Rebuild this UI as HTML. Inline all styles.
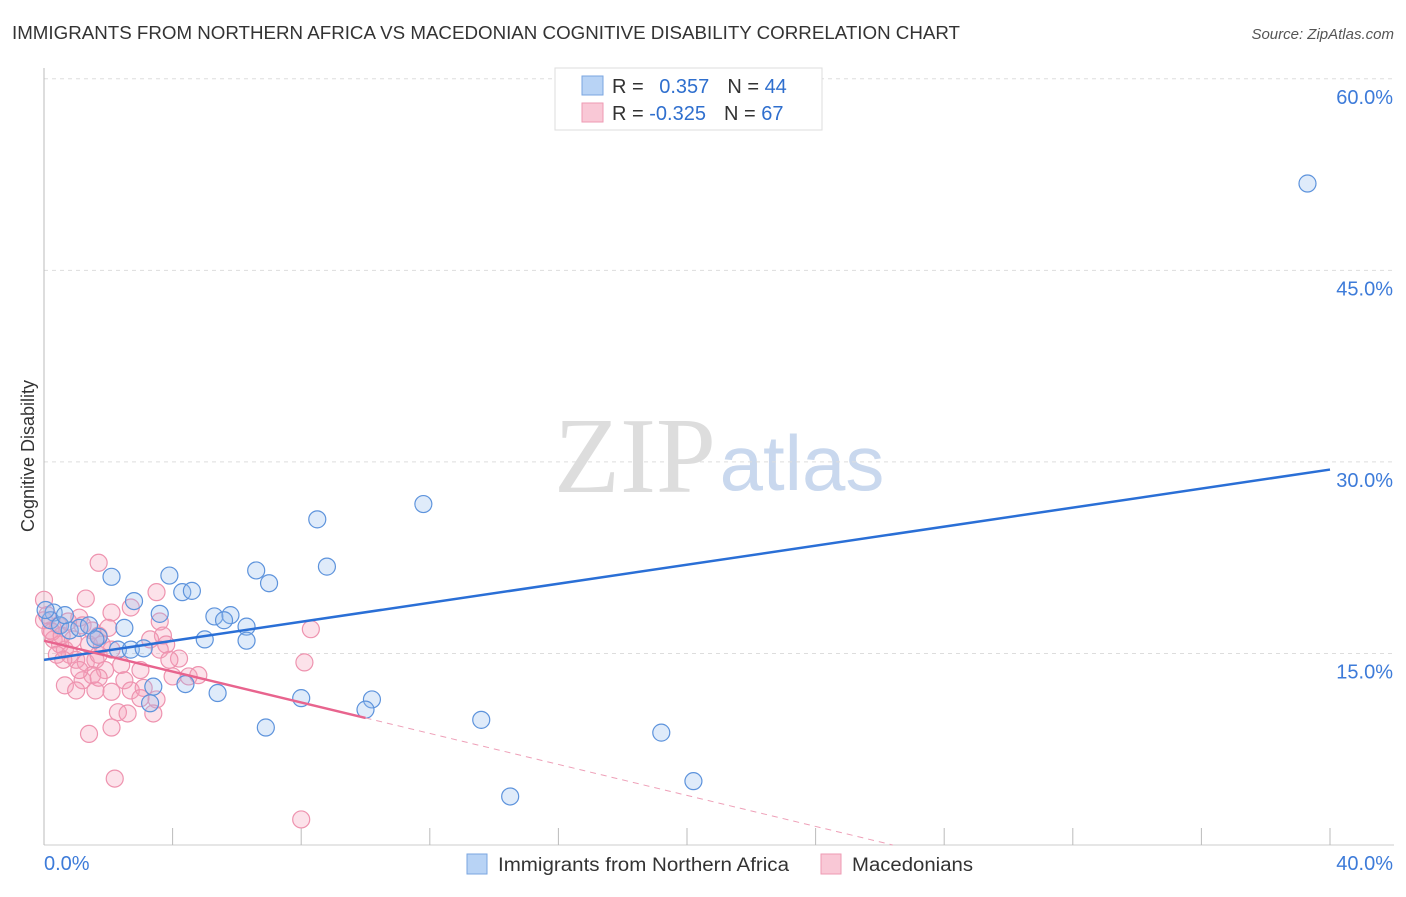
<!DOCTYPE html>
<html><head><meta charset="utf-8"><style>
body{margin:0;background:#fff;font-family:"Liberation Sans",sans-serif}
</style></head><body>
<svg width="1406" height="892" xmlns="http://www.w3.org/2000/svg" id="svg">
<text x="12" y="39" font-size="18" fill="#333" textLength="948" lengthAdjust="spacingAndGlyphs">IMMIGRANTS FROM NORTHERN AFRICA VS MACEDONIAN COGNITIVE DISABILITY CORRELATION CHART</text>
<text x="1394" y="39" font-size="15" fill="#555" font-style="italic" text-anchor="end">Source: ZipAtlas.com</text>
<text x="34" y="456" font-size="18" fill="#333" text-anchor="middle" transform="rotate(-90 34 456)">Cognitive Disability</text>
<g><text x="635" y="492" font-size="108" fill="#ddd" font-family="Liberation Serif" text-anchor="middle">ZIP</text><text x="802" y="490" font-size="78" fill="#c9d8ee" text-anchor="middle">atlas</text></g>
<g id="grid"></g><g id="pts"></g><g id="lines"></g>
<g>
<rect x="555" y="68" width="267" height="62" fill="#fff" stroke="#ddd"/>
<rect x="582" y="76" width="21" height="19" fill="#b8d3f5" stroke="#7aa6e0"/>
<rect x="582" y="103" width="21" height="19" fill="#f9c8d6" stroke="#ee9ab3"/>
<text x="612" y="93" font-size="20" fill="#333">R = <tspan fill="#2f6fce" dx="10">0.357</tspan><tspan fill="#333" dx="18">N = </tspan><tspan fill="#2f6fce">44</tspan></text>
<text x="612" y="120" font-size="20" fill="#333">R = <tspan fill="#2f6fce">-0.325</tspan><tspan fill="#333" dx="18">N = </tspan><tspan fill="#2f6fce">67</tspan></text>
</g>
<g>
<rect x="467" y="854" width="20" height="20" fill="#b8d3f5" stroke="#7aa6e0"/>
<text x="498" y="871" font-size="19" fill="#333" textLength="291" lengthAdjust="spacingAndGlyphs">Immigrants from Northern Africa</text>
<rect x="821" y="854" width="20" height="20" fill="#f9c8d6" stroke="#ee9ab3"/>
<text x="852" y="871" font-size="19" fill="#333" textLength="121" lengthAdjust="spacingAndGlyphs">Macedonians</text>
</g>
</svg>
<script>
const blueX=[39.3,11.8,8.5,8.8,6.6,7.0,2.1,3.9,4.3,4.6,2.8,3.6,5.3,5.8,5.6,6.3,2.5,5.0,6.3,1.7,2.3,2.7,3.1,0.3,0.2,0.5,0.8,1.1,1.4,8.0,10.2,10.0,3.4,4.4,5.4,3.3,6.9,13.6,19.2,20.2,14.5,0.05,1.6,0.65];
const blueY=[51.8,26.7,25.5,21.8,21.5,20.5,21.0,21.1,19.8,19.9,19.1,18.1,17.9,18.0,17.6,17.1,17.0,16.1,16.0,16.3,15.3,15.3,15.4,18.2,17.6,17.2,16.8,17.0,17.2,11.5,11.4,10.6,12.4,12.6,11.9,11.1,9.2,9.8,8.8,5.0,3.8,18.4,16.1,18.0];
const pinkX=[1.7,3.5,1.3,2.1,0.0,3.6,3.7,3.8,8.3,8.1,4.2,2.7,1.1,1.2,0.2,0.3,0.5,0.65,0.8,1.0,1.3,1.6,1.7,2.1,2.4,1.9,1.5,1.2,0.65,1.0,2.5,2.7,3.1,3.5,2.1,2.3,2.6,3.4,2.1,1.4,2.2,8.0,4.0,4.5,4.8,0.0,0.1,0.25,0.45,0.55,0.75,0.9,1.4,1.5,1.7,1.8,2.0,0.6,0.4,1.1,1.6,1.7,3.0,3.6,3.9,3.3,3.0];
const pinkY=[22.1,19.8,19.3,18.2,19.2,17.5,16.4,15.7,16.9,14.3,14.6,18.6,17.8,17.2,16.8,16.1,15.7,15.3,14.9,14.5,14.3,14.5,14.9,15.3,14.1,13.7,13.3,12.9,12.5,12.1,12.9,12.1,12.3,11.4,12.0,10.4,10.3,10.3,9.2,8.7,5.2,2.0,13.2,13.2,13.3,17.6,18.0,16.7,17.2,16.4,17.5,16.1,15.7,16.8,16.4,15.7,17.0,14.5,14.9,13.7,12.1,13.1,11.5,15.3,14.5,16.1,13.7];
const yTicks=[15,30,45,60];
const yTickLabels=["15.0%","30.0%","45.0%","60.0%"];
const xTicks=[0,4,8,12,16,20,24,28,32,36,40];
const blueTrend=[[0,14.5],[40,29.4]];
const pinkTrend=[[0,16.0],[10,9.95]];
const pinkDash=[[10,9.95],[26.4,0]];
const NS="http://www.w3.org/2000/svg";
const X=v=>44+v*32.15, Y=v=>845-v*12.77;
function mk(t,a,p){const e=document.createElementNS(NS,t);for(const k in a)e.setAttribute(k,a[k]);p.appendChild(e);return e;}
const grid=document.getElementById('grid');
yTicks.forEach((t,i)=>{
 const l=mk('line',{x1:44,x2:1394,y1:Y(t),y2:Y(t),stroke:'#ddd','stroke-dasharray':'4,4'},grid);
 
 
 const tx=mk('text',{x:1393,y:Y(t)+25,'font-size':20,fill:'#3d7bd9','text-anchor':'end'},grid);
 tx.textContent=yTickLabels[i];
 
 
});
const ax=mk('line',{x1:44,x2:44,y1:68,y2:845,stroke:'#bbb'},grid);


const bx=mk('line',{x1:44,x2:1394,y1:845,y2:845,stroke:'#ccc'},grid);


xTicks.forEach(t=>{const l=mk('line',{x1:X(t),x2:X(t),y1:828,y2:845,stroke:'#bbb'},grid);
 
 });
const x0=mk('text',{x:44,y:870,'font-size':20,fill:'#3d7bd9'},grid);x0.textContent='0.0%';


const x1=mk('text',{x:1393,y:870,'font-size':20,fill:'#3d7bd9','text-anchor':'end'},grid);x1.textContent='40.0%';


const pts=document.getElementById('pts');
pinkX.forEach((x,i)=>{const c=mk('circle',{cx:X(x),cy:Y(pinkY[i]),r:8.5,fill:'rgba(245,160,185,0.3)',stroke:'#ee93af','stroke-width':1.2},pts);
 
 });
blueX.forEach((x,i)=>{const c=mk('circle',{cx:X(x),cy:Y(blueY[i]),r:8.5,fill:'rgba(150,190,240,0.3)',stroke:'#5d93dc','stroke-width':1.2},pts);
 
 });
const lines=document.getElementById('lines');
const b=mk('line',{x1:X(blueTrend[0][0]),y1:Y(blueTrend[0][1]),x2:X(blueTrend[1][0]),y2:Y(blueTrend[1][1]),stroke:'#2a6fd6','stroke-width':2.5},lines);


const p=mk('line',{x1:X(pinkTrend[0][0]),y1:Y(pinkTrend[0][1]),x2:X(pinkTrend[1][0]),y2:Y(pinkTrend[1][1]),stroke:'#e8648e','stroke-width':2.5},lines);


const pd=mk('line',{x1:X(pinkDash[0][0]),y1:Y(pinkDash[0][1]),x2:X(pinkDash[1][0]),y2:Y(pinkDash[1][1]),stroke:'#eea0b8','stroke-width':1,'stroke-dasharray':'6,5'},lines);


</script>
</body></html>
